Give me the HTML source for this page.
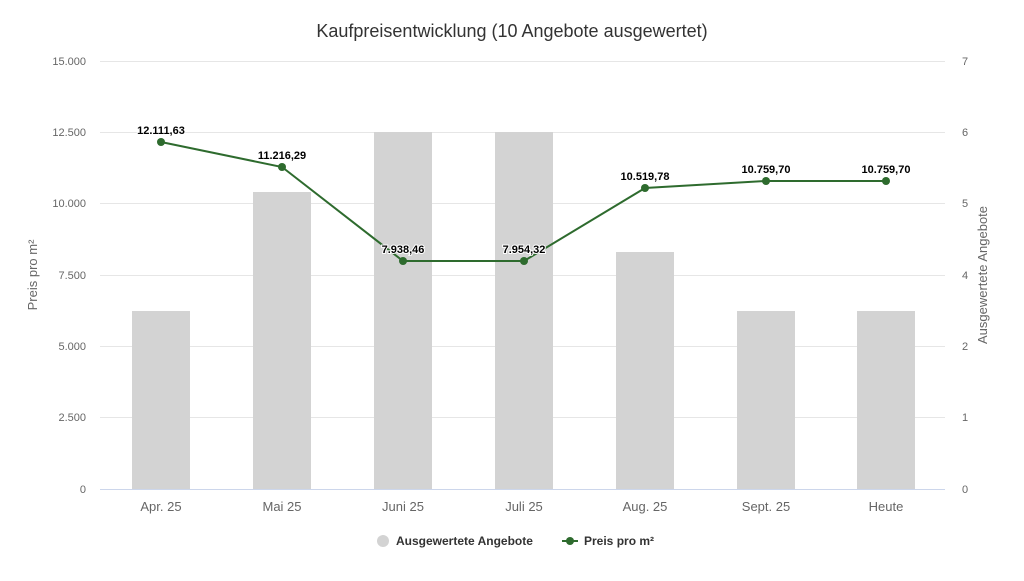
<!DOCTYPE html>
<html><head><meta charset="utf-8"><style>
body{margin:0;background:#fff;font-family:"Liberation Sans",Arial,sans-serif}
</style></head><body>
<svg width="1024" height="576" xmlns="http://www.w3.org/2000/svg" font-family="Liberation Sans, Arial, sans-serif">
<rect width="1024" height="576" fill="#fff"/>
<text x="512" y="37" text-anchor="middle" font-size="18" fill="#333">Kaufpreisentwicklung (10 Angebote ausgewertet)</text>
<g stroke="#e6e6e6" stroke-width="1">
<line x1="100" x2="945" y1="61.5" y2="61.5"/>
<line x1="100" x2="945" y1="132.5" y2="132.5"/>
<line x1="100" x2="945" y1="203.5" y2="203.5"/>
<line x1="100" x2="945" y1="275.5" y2="275.5"/>
<line x1="100" x2="945" y1="346.5" y2="346.5"/>
<line x1="100" x2="945" y1="417.5" y2="417.5"/>
</g>
<line x1="100" x2="945" y1="489.5" y2="489.5" stroke="#ccd6eb"/>
<g font-size="11" fill="#666" text-anchor="end">
<text x="86" y="65">15.000</text><text x="86" y="136">12.500</text><text x="86" y="207">10.000</text>
<text x="86" y="279">7.500</text><text x="86" y="350">5.000</text><text x="86" y="421">2.500</text><text x="86" y="493">0</text>
</g>
<g font-size="11" fill="#666" text-anchor="start">
<text x="962" y="65">7</text><text x="962" y="136">6</text><text x="962" y="207">5</text>
<text x="962" y="279">4</text><text x="962" y="350">2</text><text x="962" y="421">1</text><text x="962" y="493">0</text>
</g>
<text transform="translate(37,275) rotate(-90)" text-anchor="middle" font-size="13" fill="#666">Preis pro m²</text>
<text transform="translate(987,275) rotate(-90)" text-anchor="middle" font-size="13" fill="#666">Ausgewertete Angebote</text>
<g fill="#d3d3d3">
<rect x="132" y="311" width="58" height="178"/>
<rect x="253" y="192" width="58" height="297"/>
<rect x="374" y="132" width="58" height="357"/>
<rect x="495" y="132" width="58" height="357"/>
<rect x="616" y="252" width="58" height="237"/>
<rect x="737" y="311" width="58" height="178"/>
<rect x="857" y="311" width="58" height="178"/>
</g>
<g font-size="13" fill="#666" text-anchor="middle">
<text x="161" y="511">Apr. 25</text><text x="282" y="511">Mai 25</text><text x="403" y="511">Juni 25</text>
<text x="524" y="511">Juli 25</text><text x="645" y="511">Aug. 25</text><text x="766" y="511">Sept. 25</text><text x="886" y="511">Heute</text>
</g>
<polyline fill="none" stroke="#2e6b2e" stroke-width="2" points="161,142 282,167 403,261 524,261 645,188 766,181 886,181"/>
<g fill="#2e6b2e">
<circle cx="161" cy="142" r="4"/><circle cx="282" cy="167" r="4"/><circle cx="403" cy="261" r="4"/><circle cx="524" cy="261" r="4"/>
<circle cx="645" cy="188" r="4"/><circle cx="766" cy="181" r="4"/><circle cx="886" cy="181" r="4"/>
</g>
<g font-size="11" font-weight="bold" fill="#000" text-anchor="middle" stroke="#fff" stroke-width="2" paint-order="stroke">
<text x="161" y="134">12.111,63</text><text x="282" y="159">11.216,29</text><text x="403" y="253">7.938,46</text>
<text x="524" y="253">7.954,32</text><text x="645" y="180">10.519,78</text><text x="766" y="173">10.759,70</text><text x="886" y="173">10.759,70</text>
</g>
<circle cx="383" cy="541" r="6" fill="#d3d3d3"/>
<text x="396" y="545" font-size="12" font-weight="bold" fill="#333">Ausgewertete Angebote</text>
<line x1="562" x2="578" y1="541" y2="541" stroke="#2e6b2e" stroke-width="2"/>
<circle cx="570" cy="541" r="4" fill="#2e6b2e"/>
<text x="584" y="545" font-size="12" font-weight="bold" fill="#333">Preis pro m²</text>
</svg>
</body></html>
